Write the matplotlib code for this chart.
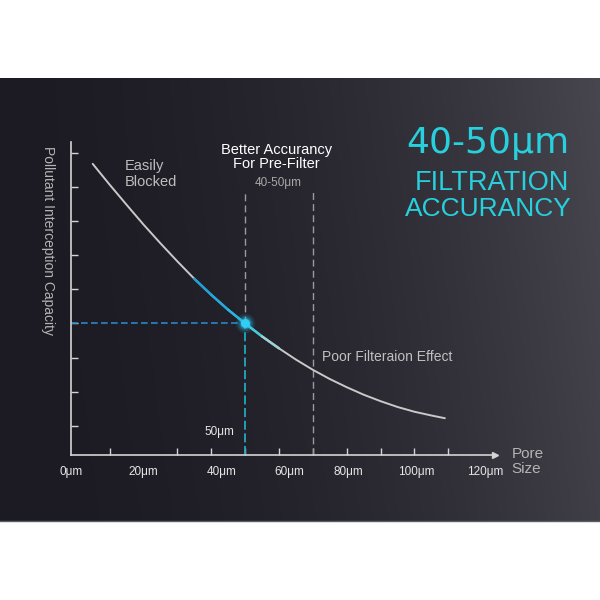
import numpy as np
import matplotlib
matplotlib.use('Agg')
import matplotlib.pyplot as plt
from matplotlib.collections import LineCollection

plt.rcParams['font.family'] = ['Liberation Sans', 'DejaVu Sans']

# ---- data ----
pore_size = [5, 10, 15, 20, 25, 30, 35, 40, 45, 50, 55, 60, 65, 70, 75, 80, 85, 90, 95, 100, 105, 109]
capacity = [8.68, 8.07, 7.48, 6.90, 6.35, 5.82, 5.31, 4.84, 4.40, 4.00, 3.62, 3.27, 2.94, 2.64,
            2.37, 2.13, 1.91, 1.72, 1.55, 1.41, 1.30, 1.22]
highlight_sizes = [35, 40, 45, 50, 55, 60]
highlight_colors = ['#1e9fd6', '#1fa8dc', '#22b6e2', '#45c9da', '#9cd3d6']
selected_size = 50
selected_capacity = 4.00
boundary_size = 70
guide_top = 7.9
x_tick_marks = [10, 20, 30, 40, 50, 60, 70, 80, 90, 100, 110]
x_label_pos = [-1.5, 20, 43, 63, 80.5, 100.5, 121]
x_labels = ['0μm', '20μm', '40μm', '60μm', '80μm', '100μm', '120μm']
y_tick_marks = [1, 2, 3, 4, 5, 6, 7, 8, 9]

fig = plt.figure(figsize=(6, 6), dpi=100, facecolor='white')

# ---- dark gradient panel ----
bg = fig.add_axes([0, 79 / 600, 1, 443 / 600], zorder=-5)
W, H = 300, 100
t = np.linspace(0, 1, W)[None, :]
v = np.linspace(1, 0, H)[:, None]  # 1 at top
left = np.array([0x1c, 0x1b, 0x24]) / 255
right = np.array([0x40, 0x3f, 0x47]) / 255
ramp = (t ** 2)[..., None]
img = left + (right - left) * ramp
img = img + (0.03 * v * t)[..., None]
bg.imshow(np.clip(img, 0, 1), aspect='auto', extent=[0, 1, 0, 1])
bg.axis('off')
fig.add_artist(plt.Line2D([0, 1], [79 / 600, 79 / 600], color='#5a5f66', lw=1.0))

# ---- main axes ----
ax = fig.add_axes([70.7 / 600, 145 / 600, 424.3 / 600, 313.3 / 600])
ax.set_facecolor('none')
ax.set_xlim(-0.56, 123.8)
ax.set_ylim(0.141, 9.33)
for s in ['top', 'right']:
    ax.spines[s].set_visible(False)
for s in ['left', 'bottom']:
    ax.spines[s].set_color('#d4d4d4')
    ax.spines[s].set_linewidth(1.2)
ax.plot(1, 0, marker='>', color='#d4d4d4', markersize=5, transform=ax.transAxes, clip_on=False)

ax.set_xticks(x_label_pos)
ax.set_xticklabels(x_labels)
ax.set_xticks(x_tick_marks, minor=True)
ax.tick_params(axis='x', which='major', length=0, pad=8, labelsize=8.5, labelcolor='#e6e6e6')
ax.tick_params(axis='x', which='minor', direction='in', length=5, width=1.0, color='#d4d4d4')
ax.set_yticks(y_tick_marks)
ax.set_yticklabels([])
ax.tick_params(axis='y', which='major', direction='in', length=5, width=1.0, color='#d4d4d4')

# ---- guide lines ----
ax.plot([ax.get_xlim()[0], selected_size], [selected_capacity, selected_capacity],
        color='#2a86c8', lw=1.2, dashes=(4, 2))
ax.plot([selected_size, selected_size], [ax.get_ylim()[0], selected_capacity],
        color='#22a9bd', lw=1.3, dashes=(5, 2))
ax.plot([selected_size, selected_size], [selected_capacity, guide_top],
        color='#9a9a9a', lw=1.0, dashes=(5, 3))
ax.plot([boundary_size, boundary_size], [ax.get_ylim()[0], guide_top],
        color='#9a9a9a', lw=1.0, dashes=(5, 3))

# ---- curve ----
ax.plot(pore_size, capacity, color='#c9c9c9', lw=1.4, solid_capstyle='round', zorder=3)
hy = [capacity[pore_size.index(s)] for s in highlight_sizes]
segs = [[(highlight_sizes[i], hy[i]), (highlight_sizes[i + 1], hy[i + 1])]
        for i in range(len(highlight_sizes) - 1)]
lc = LineCollection(segs, colors=highlight_colors, linewidths=1.8, zorder=4,
                    capstyle='round')
ax.add_collection(lc)

# dot with glow
for ms, a in [(14, 0.12), (11, 0.2), (8.5, 0.35)]:
    ax.plot(selected_size, selected_capacity, 'o', color='#29c6f2', markersize=ms, alpha=a,
            markeredgewidth=0, zorder=5)
ax.plot(selected_size, selected_capacity, 'o', color='#30cdf5', markersize=6.5,
        markeredgewidth=0, zorder=6)

# ---- annotations ----
ax.text(14.4, 8.38, 'Easily\nBlocked', ha='left', va='center', fontsize=10.5,
        color='#bdbdbd', linespacing=1.25)
ax.text(59.3, 8.87, 'Better Accurancy\nFor Pre-Filter', ha='center', va='center', fontsize=10.5,
        color='#ffffff', linespacing=1.0)
ax.text(59.9, 8.12, '40-50μm', ha='center', va='center', fontsize=8.5, color='#a8a8a8')
ax.text(72.7, 3.02, 'Poor Filteraion Effect', ha='left', va='center', fontsize=10, color='#c0c0c0')
ax.text(46.9, 0.815, '50μm', ha='right', va='center', fontsize=8.5, color='#e6e6e6')

fig.text(48 / 600, 1 - 240 / 600, 'Pollutant Interception Capacity', rotation=270,
         ha='center', va='center', fontsize=10, color='#b4b4b4')
fig.text(511.7 / 600, 1 - 461.5 / 600, 'Pore\nSize', ha='left', va='center', fontsize=11,
         color='#b4b4b4', linespacing=1.05)

cyan = '#27d0dc'
fig.text(487.5 / 600, 1 - 153.3 / 600, '40-50μm', ha='center', va='baseline', fontsize=26,
         color=cyan, family=['DejaVu Sans'])
fig.text(491.7 / 600, 1 - 190 / 600, 'FILTRATION', ha='center', va='baseline', fontsize=19.5,
         color=cyan)
fig.text(488 / 600, 1 - 216 / 600, 'ACCURANCY', ha='center', va='baseline', fontsize=19,
         color=cyan)

fig.savefig('out.png', dpi=100, facecolor='white')
